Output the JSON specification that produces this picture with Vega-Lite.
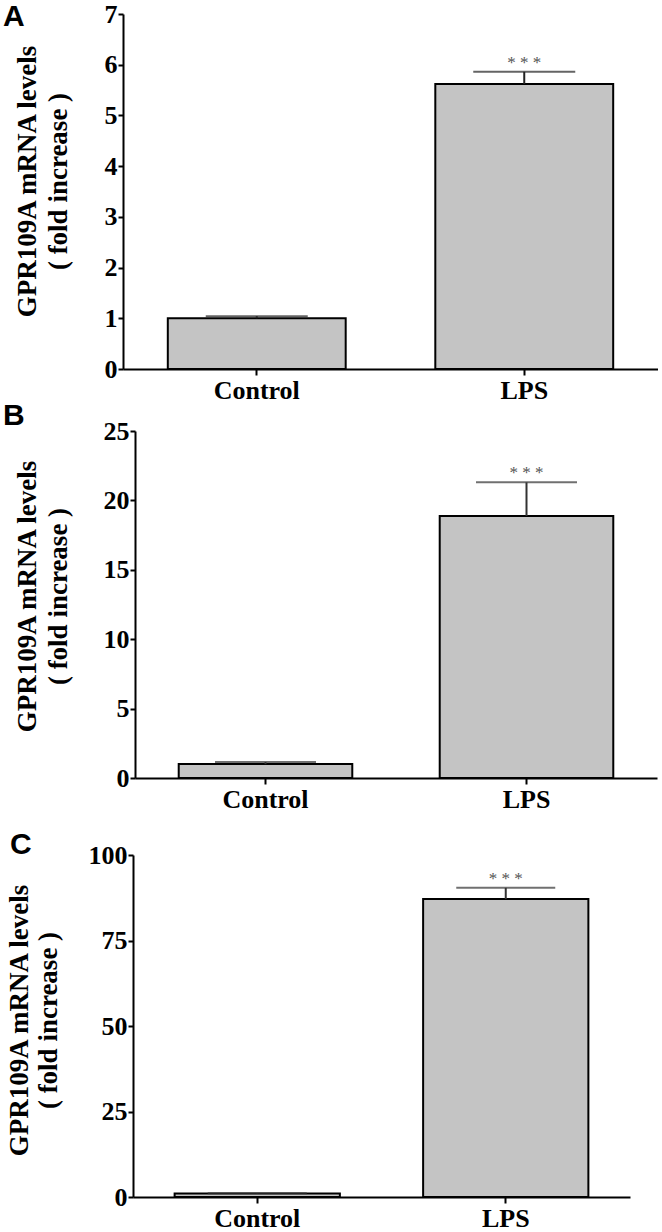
{
  "$schema": "https://vega.github.io/schema/vega-lite/v6.json",
  "padding": {"left": 3, "top": 1, "right": 0, "bottom": 0},
  "columns": 1,
  "align": "none",
  "spacing": -2,
  "config": {"view": {"stroke": null}, "font": "Liberation Serif"},
  "concat": [
    {
      "width": 535, "height": 355,
      "title": {"text": "A", "anchor": "start", "frame": "group", "font": "Liberation Sans", "fontSize": 30, "fontWeight": "bold", "color": "#000", "dx": -120, "baseline": "top", "offset": -31},
      "data": {"values": [
        {"group": "Control", "value": 1.0, "upper": 1.04, "sig": ""},
        {"group": "LPS", "value": 5.62, "upper": 5.86, "sig": "* * *"}
      ]},
      "encoding": {"x": {"field": "group", "type": "nominal", "sort": ["Control", "LPS"], "scale": {"paddingInner": 0.335, "paddingOuter": 0.1675},
        "axis": {"title": null, "labelAngle": 0, "domainColor": "#000", "domainWidth": 2, "tickColor": "#000", "tickWidth": 2, "tickSize": 6, "labelPadding": 2, "labelFont": "Liberation Serif", "labelFontSize": 26, "labelFontWeight": "bold", "labelColor": "#000"}}},
      "layer": [
        {"mark": {"type": "bar", "fill": "#c4c4c4", "stroke": "#000", "strokeWidth": 2},
         "encoding": {"y": {"field": "value", "type": "quantitative", "scale": {"domain": [0, 7], "nice": false},
           "axis": {"title": ["GPR109A mRNA levels", "( fold increase )"], "values": [0, 1, 2, 3, 4, 5, 6, 7], "grid": false, "domainColor": "#000", "domainWidth": 2, "tickColor": "#000", "tickWidth": 2, "tickSize": 5, "labelPadding": 1, "labelFont": "Liberation Serif", "labelFontSize": 26, "labelFontWeight": "bold", "labelColor": "#000", "titleFont": "Liberation Serif", "titleFontSize": 27, "titleFontWeight": "bold", "titleColor": "#000", "titleAngle": -90, "titleBaseline": "alphabetic", "titleAlign": "center", "titleX": -88, "titleY": 167, "titleLineHeight": 31}}}},
        {"mark": {"type": "rule", "color": "#222", "strokeWidth": 2},
         "encoding": {"y": {"field": "value", "type": "quantitative"}, "y2": {"field": "upper"}}},
        {"mark": {"type": "tick", "color": "#222", "thickness": 2, "size": 102},
         "encoding": {"y": {"field": "upper", "type": "quantitative"}}},
        {"mark": {"type": "text", "font": "Liberation Serif", "fontSize": 17, "color": "#555", "baseline": "alphabetic", "dy": -4},
         "encoding": {"y": {"field": "upper", "type": "quantitative"}, "text": {"field": "sig"}}}
      ]
    },
    {
      "columns": 1,
      "align": "none",
      "spacing": 18,
      "concat": [
        {
          "width": 534, "height": 347,
          "title": {"text": "B", "anchor": "start", "frame": "group", "font": "Liberation Sans", "fontSize": 30, "fontWeight": "bold", "color": "#000", "dx": -120, "baseline": "top", "offset": -13},
          "data": {"values": [
            {"group": "Control", "value": 1.0, "upper": 1.15, "sig": ""},
            {"group": "LPS", "value": 18.88, "upper": 21.3, "sig": "* * *"}
          ]},
          "encoding": {"x": {"field": "group", "type": "nominal", "sort": ["Control", "LPS"], "scale": {"paddingInner": 0.335, "paddingOuter": 0.1675, "range": [12, 534]},
            "axis": {"title": null, "labelAngle": 0, "domainColor": "#000", "domainWidth": 2, "tickColor": "#000", "tickWidth": 2, "tickSize": 6, "labelPadding": 2, "labelFont": "Liberation Serif", "labelFontSize": 26, "labelFontWeight": "bold", "labelColor": "#000"}}},
          "layer": [
            {"mark": {"type": "bar", "fill": "#c4c4c4", "stroke": "#000", "strokeWidth": 2},
             "encoding": {"y": {"field": "value", "type": "quantitative", "scale": {"domain": [0, 25], "nice": false},
               "axis": {"title": ["GPR109A mRNA levels", "( fold increase )"], "offset": -12, "values": [0, 5, 10, 15, 20, 25], "grid": false, "domainColor": "#000", "domainWidth": 2, "tickColor": "#000", "tickWidth": 2, "tickSize": 5, "labelPadding": 1, "labelFont": "Liberation Serif", "labelFontSize": 26, "labelFontWeight": "bold", "labelColor": "#000", "titleFont": "Liberation Serif", "titleFontSize": 27, "titleFontWeight": "bold", "titleColor": "#000", "titleAngle": -90, "titleBaseline": "alphabetic", "titleAlign": "center", "titleX": -100, "titleY": 165, "titleLineHeight": 31}}}},
            {"mark": {"type": "rule", "color": "#333", "strokeWidth": 2},
             "encoding": {"y": {"field": "value", "type": "quantitative"}, "y2": {"field": "upper"}}},
            {"mark": {"type": "tick", "color": "#333", "thickness": 2, "size": 101},
             "encoding": {"y": {"field": "upper", "type": "quantitative"}}},
            {"mark": {"type": "text", "font": "Liberation Serif", "fontSize": 17, "color": "#555", "baseline": "alphabetic", "dy": -4},
             "encoding": {"y": {"field": "upper", "type": "quantitative"}, "text": {"field": "sig"}}}
          ]
        },
        {
          "width": 507, "height": 342,
          "title": {"text": "C", "anchor": "start", "frame": "group", "font": "Liberation Sans", "fontSize": 30, "fontWeight": "bold", "color": "#000", "dx": -113, "baseline": "top", "offset": -18},
          "data": {"values": [
            {"group": "Control", "value": 1.0, "upper": 1.1, "sig": ""},
            {"group": "LPS", "value": 87.1, "upper": 90.4, "sig": "* * *"}
          ]},
          "encoding": {"x": {"field": "group", "type": "nominal", "sort": ["Control", "LPS"], "scale": {"paddingInner": 0.335, "paddingOuter": 0.1675, "range": [10, 507]},
            "axis": {"title": null, "labelAngle": 0, "domainColor": "#000", "domainWidth": 2, "tickColor": "#000", "tickWidth": 2, "tickSize": 6, "labelPadding": 2, "labelFont": "Liberation Serif", "labelFontSize": 26, "labelFontWeight": "bold", "labelColor": "#000"}}},
          "layer": [
            {"mark": {"type": "bar", "fill": "#c4c4c4", "stroke": "#000", "strokeWidth": 2},
             "encoding": {"y": {"field": "value", "type": "quantitative", "scale": {"domain": [0, 100], "nice": false},
               "axis": {"title": ["GPR109A mRNA levels", "( fold increase )"], "offset": -10, "values": [0, 25, 50, 75, 100], "grid": false, "domainColor": "#000", "domainWidth": 2, "tickColor": "#000", "tickWidth": 2, "tickSize": 5, "labelPadding": 1, "labelFont": "Liberation Serif", "labelFontSize": 26, "labelFontWeight": "bold", "labelColor": "#000", "titleFont": "Liberation Serif", "titleFontSize": 27, "titleFontWeight": "bold", "titleColor": "#000", "titleAngle": -90, "titleBaseline": "alphabetic", "titleAlign": "center", "titleX": -106, "titleY": 165, "titleLineHeight": 29}}}},
            {"mark": {"type": "rule", "color": "#333", "strokeWidth": 2},
             "encoding": {"y": {"field": "value", "type": "quantitative"}, "y2": {"field": "upper"}}},
            {"mark": {"type": "tick", "color": "#333", "thickness": 2, "size": 99},
             "encoding": {"y": {"field": "upper", "type": "quantitative"}}},
            {"mark": {"type": "text", "font": "Liberation Serif", "fontSize": 17, "color": "#555", "baseline": "alphabetic", "dy": -4},
             "encoding": {"y": {"field": "upper", "type": "quantitative"}, "text": {"field": "sig"}}}
          ]
        }
      ]
    }
  ]
}
